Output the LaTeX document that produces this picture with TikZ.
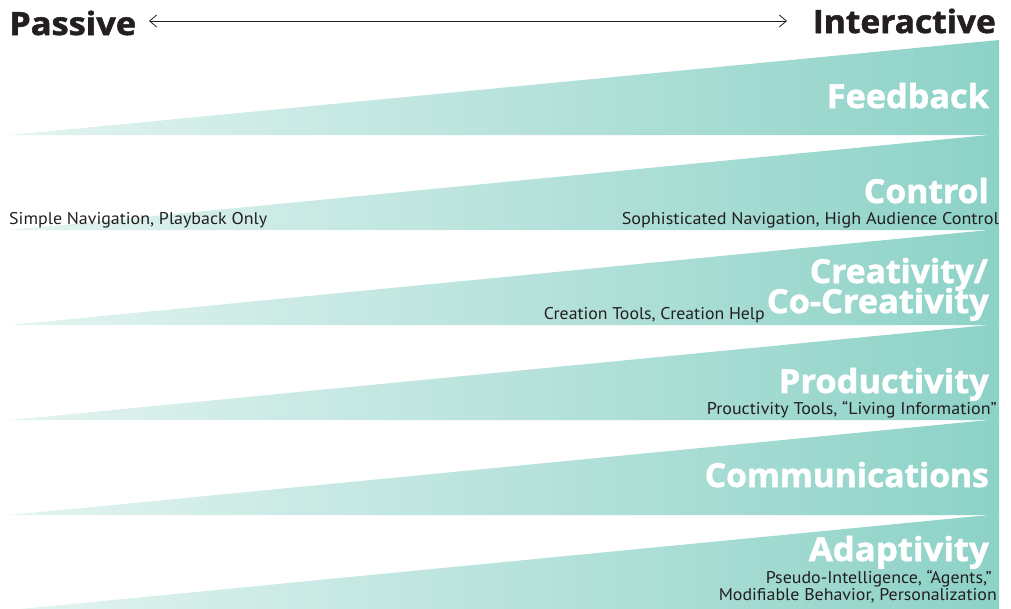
\documentclass[tikz,border=0pt]{standalone}
\usepackage{graphicx}
\usepackage{fontspec}
\setmainfont{PT Sans}
\newfontfamily\headfont{Open Sans}[BoldFeatures={FakeBold=1.6}]
\usetikzlibrary{arrows.meta}
\definecolor{ink}{HTML}{231F20}
\definecolor{tealL}{HTML}{E4F4F1}
\definecolor{tealR}{HTML}{8DD2C7}
\tikzset{
  wedge/.style={left color=tealL, right color=tealR, draw=none},
  head/.style={font=\headfont\bfseries\fontsize{33}{33}\selectfont, text=white, inner sep=0pt, anchor=base east},
  pole/.style={font=\headfont\bfseries\fontsize{32}{32}\selectfont, text=ink, inner sep=0pt},
  note/.style={font=\fontsize{17}{17}\selectfont, text=ink, inner sep=0pt, anchor=base east},
}
\newcommand{\fw}[2]{\resizebox{#1pt}{\height}{#2}}
\begin{document}
\begin{tikzpicture}[x=1pt,y=-1pt]
\useasboundingbox (0,0) rectangle (1011,608);
\begin{scope}
\clip (0,0) rectangle (1011,608);
\shade[wedge] (10,135) -- (999,40) -- (999,135) -- cycle;
\shade[wedge] (10,230) -- (999,134) -- (999,230) -- cycle;
\shade[wedge] (10,325) -- (999,229) -- (999,325) -- cycle;
\shade[wedge] (10,420) -- (999,324) -- (999,420) -- cycle;
\shade[wedge] (10,515) -- (999,419) -- (999,515) -- cycle;
\shade[wedge] (10,610) -- (999,514) -- (999,610) -- cycle;
\end{scope}

\node[pole, anchor=base west] (passive) at (9,35) {\fw{127}{Passive}};
\node[pole, anchor=base east] (interactive) at (996,33) {\fw{183}{Interactive}};
\coordinate (al) at (149,21);
\coordinate (ar) at (787,21);
\draw[ink, line width=0.8pt, {Straight Barb[length=7pt,width=12pt]}-{Straight Barb[length=7pt,width=12pt]}] (al) -- (ar);

\node[head] (feedback) at (989,108) {\fw{162}{Feedback}};
\node[head] (control) at (989,203) {\fw{125}{Control}};
\node[note] (soph) at (999,224) {\fw{377}{Sophisticated Navigation, High Audience Control}};
\node[note, anchor=base west] (simple) at (9,224) {\fw{258}{Simple Navigation, Playback Only}};
\node[head] (creat1) at (988,283) {\fw{178}{Creativity/}};
\node[head] (creat2) at (989,313) {\fw{222}{Co-Creativity}};
\node[note] (ctools) at (765,319) {\fw{221}{Creation Tools, Creation Help}};
\node[head] (prod) at (989,393) {\fw{210}{Productivity}};
\node[note] (ptools) at (997,414) {\fw{290}{Prouctivity Tools, “Living Information”}};
\node[head] (comm) at (989,487) {\fw{284}{Communications}};
\node[head] (adapt) at (989,561) {\fw{180}{Adaptivity}};
\node[note] (pseudo) at (992,583) {\fw{226}{Pseudo-Intelligence, “Agents,”}};
\node[note] (modif) at (997,600) {\fw{278}{Modifiable Behavior, Personalization}};
\end{tikzpicture}
\end{document}
